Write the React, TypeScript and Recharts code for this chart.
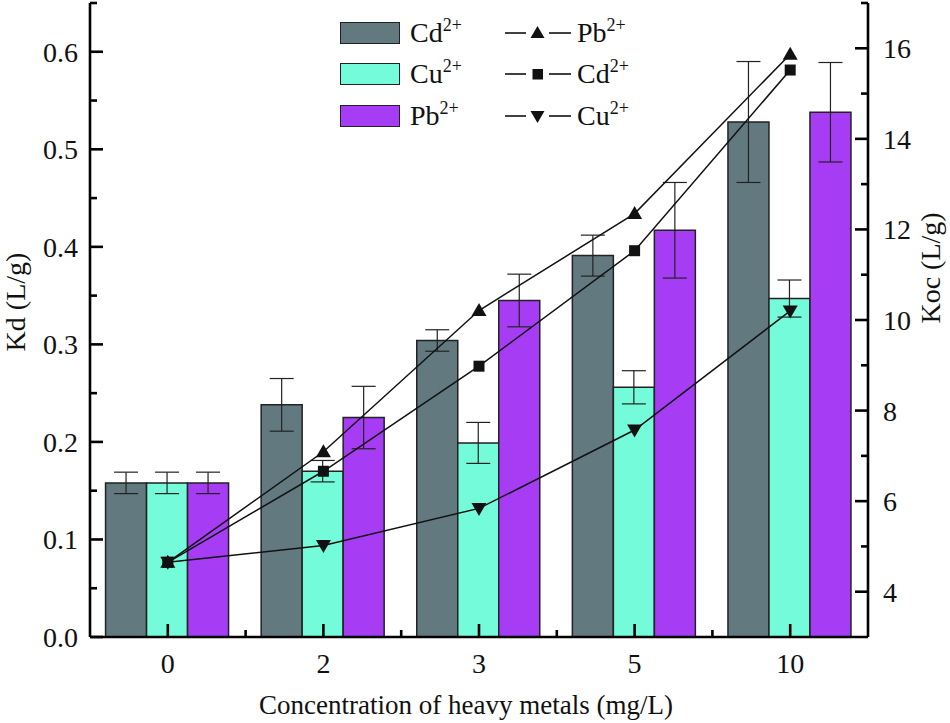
import { ComposedChart, Bar, Line, XAxis, YAxis, ErrorBar, Label } from 'recharts';

const categories = ['0', '2', '3', '5', '10'];

// Kd bars (left axis) and their error ranges
const kdCd = [0.158, 0.238, 0.304, 0.391, 0.528];
const kdCdErr = [0.011, 0.027, 0.011, 0.021, 0.062];
const kdCu = [0.158, 0.170, 0.199, 0.256, 0.347];
const kdCuErr = [0.011, 0.011, 0.021, 0.017, 0.019];
const kdPb = [0.158, 0.225, 0.345, 0.417, 0.538];
const kdPbErr = [0.011, 0.032, 0.027, 0.049, 0.051];

// Koc lines (right axis)
const kocPb = [4.65, 7.09, 10.21, 12.35, 15.87];
const kocCd = [4.65, 6.66, 8.98, 11.53, 15.52];
const kocCu = [4.65, 5.02, 5.84, 7.57, 10.2];

const leftTicks = [0, 0.05, 0.1, 0.15, 0.2, 0.25, 0.3, 0.35, 0.4, 0.45, 0.5, 0.55, 0.6, 0.65];
const rightTicks = [3, 4, 5, 6, 7, 8, 9, 10, 11, 12, 13, 14, 15, 16, 17];

const data = categories.map((c, i) => ({
  conc: c,
  kdCd: kdCd[i],
  kdCdErr: kdCdErr[i],
  kdCu: kdCu[i],
  kdCuErr: kdCuErr[i],
  kdPb: kdPb[i],
  kdPbErr: kdPbErr[i],
  kocPb: kocPb[i],
  kocCd: kocCd[i],
  kocCu: kocCu[i],
}));

const FONT = 'Liberation Serif';
const INK = '#111';
const CD = '#637980';
const CU = '#74fbd9';
const PB = '#a63df4';
const GAP = 12;

// ticks point into the plot, like the Origin original
const LeftTick = (props: any) => {
  const { x, y, payload } = props;
  const v = payload.value;
  const major = Math.round(v * 100) % 10 === 0;
  const ax = Number(x) + GAP;
  return (
    <g>
      <line x1={ax} x2={ax + (major ? 13 : 7)} y1={y} y2={y} style={{ stroke: '#000', strokeWidth: 2.6 }} />
      {major && (
        <text x={x} y={y} dy={10} textAnchor="end" fontSize={28} fontFamily={FONT} fill={INK}>
          {v.toFixed(1)}
        </text>
      )}
    </g>
  );
};

const RightTick = (props: any) => {
  const { x, y, payload } = props;
  const v = payload.value;
  if (v === 3) return <g />;
  const major = v % 2 === 0 && v < 17;
  const ax = Number(x) - GAP;
  return (
    <g>
      <line x1={ax} x2={ax - (major ? 13 : 7)} y1={y} y2={y} style={{ stroke: '#000', strokeWidth: 2.6 }} />
      {major && (
        <text x={x + 3} y={y} dy={10} textAnchor="start" fontSize={28} fontFamily={FONT} fill={INK}>
          {v}
        </text>
      )}
    </g>
  );
};

const BottomTick = (props: any) => {
  const { x, y, payload, index } = props;
  const ay = Number(y) - 14;
  const half = payload.offset;
  return (
    <g>
      <line x1={x} x2={x} y1={ay} y2={ay - 13} style={{ stroke: '#000', strokeWidth: 2.6 }} />
      {half > 0 && index < categories.length - 1 ? (
        <line x1={x + half} x2={x + half} y1={ay} y2={ay - 7} style={{ stroke: '#000', strokeWidth: 2.6 }} />
      ) : null}
      <text x={x} y={y} dy={22} textAnchor="middle" fontSize={28} fontFamily={FONT} fill={INK}>
        {payload.value}
      </text>
    </g>
  );
};

const UpTri = (props: any) => {
  const { cx, cy, index } = props;
  return <path key={`u${index}`} d={`M${cx},${cy - 7.5}L${cx - 7.5},${cy + 5.5}L${cx + 7.5},${cy + 5.5}Z`} fill={INK} />;
};
const Sq = (props: any) => {
  const { cx, cy, index } = props;
  return <rect key={`s${index}`} x={cx - 5.5} y={cy - 5.5} width={11} height={11} fill={INK} />;
};
const DownTri = (props: any) => {
  const { cx, cy, index } = props;
  return <path key={`d${index}`} d={`M${cx},${cy + 7.5}L${cx - 7.5},${cy - 5.5}L${cx + 7.5},${cy - 5.5}Z`} fill={INK} />;
};

const Ion = ({ el }: { el: string }) => (
  <span style={{ fontSize: 28, lineHeight: '28px' }}>
    {el}
    <sup style={{ fontSize: 18, verticalAlign: 'top', position: 'relative', top: -8 }}>2+</sup>
  </span>
);

const barLegend = [
  { name: 'Cd', color: CD },
  { name: 'Cu', color: CU },
  { name: 'Pb', color: PB },
];
const lineLegend = [
  { name: 'Pb', shape: 'up' },
  { name: 'Cd', shape: 'sq' },
  { name: 'Cu', shape: 'down' },
];

const LineSwatch = ({ shape }: { shape: string }) => (
  <svg width={66} height={22} style={{ display: 'block' }}>
    <line x1={0} x2={21} y1={11} y2={11} stroke={INK} strokeWidth={1.6} />
    <line x1={44} x2={66} y1={11} y2={11} stroke={INK} strokeWidth={1.6} />
    {shape === 'up' && <path d="M32.5,4L25.5,16L39.5,16Z" fill={INK} />}
    {shape === 'sq' && <rect x={27.5} y={6} width={10.5} height={10.5} fill={INK} />}
    {shape === 'down' && <path d="M32.5,18L25.5,6L39.5,6Z" fill={INK} />}
  </svg>
);

export default function App() {
  return (
    <div style={{ position: 'absolute', left: 0, top: 0, width: 950, height: 723, fontFamily: FONT, color: INK, background: '#fff' }}>
      <ComposedChart
        width={950}
        height={723}
        data={data}
        margin={{ top: 3, right: 0, bottom: 0, left: 0 }}
        barCategoryGap="10%"
        barGap={0}
      >
        <XAxis
          dataKey="conc"
          type="category"
          height={86}
          interval={0}
          tickSize={0}
          tickMargin={14}
          tick={<BottomTick />}
          axisLine={{ stroke: '#000', strokeWidth: 2.6 }}
          tickLine={false}
        >
          <Label
            content={() => (
              <text x={466} y={714} textAnchor="middle" fontSize={27} fontFamily={FONT} fill={INK}>
                Concentration of heavy metals (mg/L)
              </text>
            )}
          />
        </XAxis>
        <YAxis
          yAxisId="left"
          orientation="left"
          width={90}
          domain={[0, 0.65]}
          ticks={leftTicks}
          interval={0}
          tickSize={0}
          tickMargin={GAP}
          tick={<LeftTick />}
          tickLine={false}
          axisLine={{ stroke: '#000', strokeWidth: 2.6 }}
        >
          <Label
            content={() => (
              <text transform="translate(25,302) rotate(-90)" textAnchor="middle" fontSize={28} fontFamily={FONT} fill={INK}>
                Kd (L/g)
              </text>
            )}
          />
        </YAxis>
        <YAxis
          yAxisId="right"
          orientation="right"
          width={82}
          domain={[3, 17]}
          ticks={rightTicks}
          interval={0}
          tickSize={0}
          tickMargin={GAP}
          tick={<RightTick />}
          tickLine={false}
          axisLine={{ stroke: '#000', strokeWidth: 2.6 }}
        >
          <Label
            content={() => (
              <text transform="translate(940,268) rotate(-90)" textAnchor="middle" fontSize={28} fontFamily={FONT} fill={INK}>
                Koc (L/g)
              </text>
            )}
          />
        </YAxis>

        <Bar yAxisId="left" dataKey="kdCd" fill={CD} stroke="#222" strokeWidth={1.5} isAnimationActive={false}>
          <ErrorBar dataKey="kdCdErr" width={12} stroke="#222" strokeWidth={1.2} />
        </Bar>
        <Bar yAxisId="left" dataKey="kdCu" fill={CU} stroke="#222" strokeWidth={1.5} isAnimationActive={false}>
          <ErrorBar dataKey="kdCuErr" width={12} stroke="#222" strokeWidth={1.2} />
        </Bar>
        <Bar yAxisId="left" dataKey="kdPb" fill={PB} stroke="#222" strokeWidth={1.5} isAnimationActive={false}>
          <ErrorBar dataKey="kdPbErr" width={12} stroke="#222" strokeWidth={1.2} />
        </Bar>

        <Line yAxisId="right" dataKey="kocPb" type="linear" stroke={INK} strokeWidth={1.5} dot={UpTri} activeDot={false} isAnimationActive={false} />
        <Line yAxisId="right" dataKey="kocCd" type="linear" stroke={INK} strokeWidth={1.5} dot={Sq} activeDot={false} isAnimationActive={false} />
        <Line yAxisId="right" dataKey="kocCu" type="linear" stroke={INK} strokeWidth={1.5} dot={DownTri} activeDot={false} isAnimationActive={false} />
      </ComposedChart>

      <div style={{ position: 'absolute', left: 340, top: 12 }}>
        {barLegend.map((b) => (
          <div key={b.name} style={{ display: 'flex', alignItems: 'center', height: 41.5 }}>
            <div style={{ width: 58, height: 20, background: b.color, border: '1.5px solid #222', marginRight: 10 }} />
            <Ion el={b.name} />
          </div>
        ))}
      </div>
      <div style={{ position: 'absolute', left: 505, top: 12 }}>
        {lineLegend.map((l) => (
          <div key={l.name} style={{ display: 'flex', alignItems: 'center', height: 41.5 }}>
            <div style={{ marginRight: 6 }}>
              <LineSwatch shape={l.shape} />
            </div>
            <Ion el={l.name} />
          </div>
        ))}
      </div>
    </div>
  );
}
